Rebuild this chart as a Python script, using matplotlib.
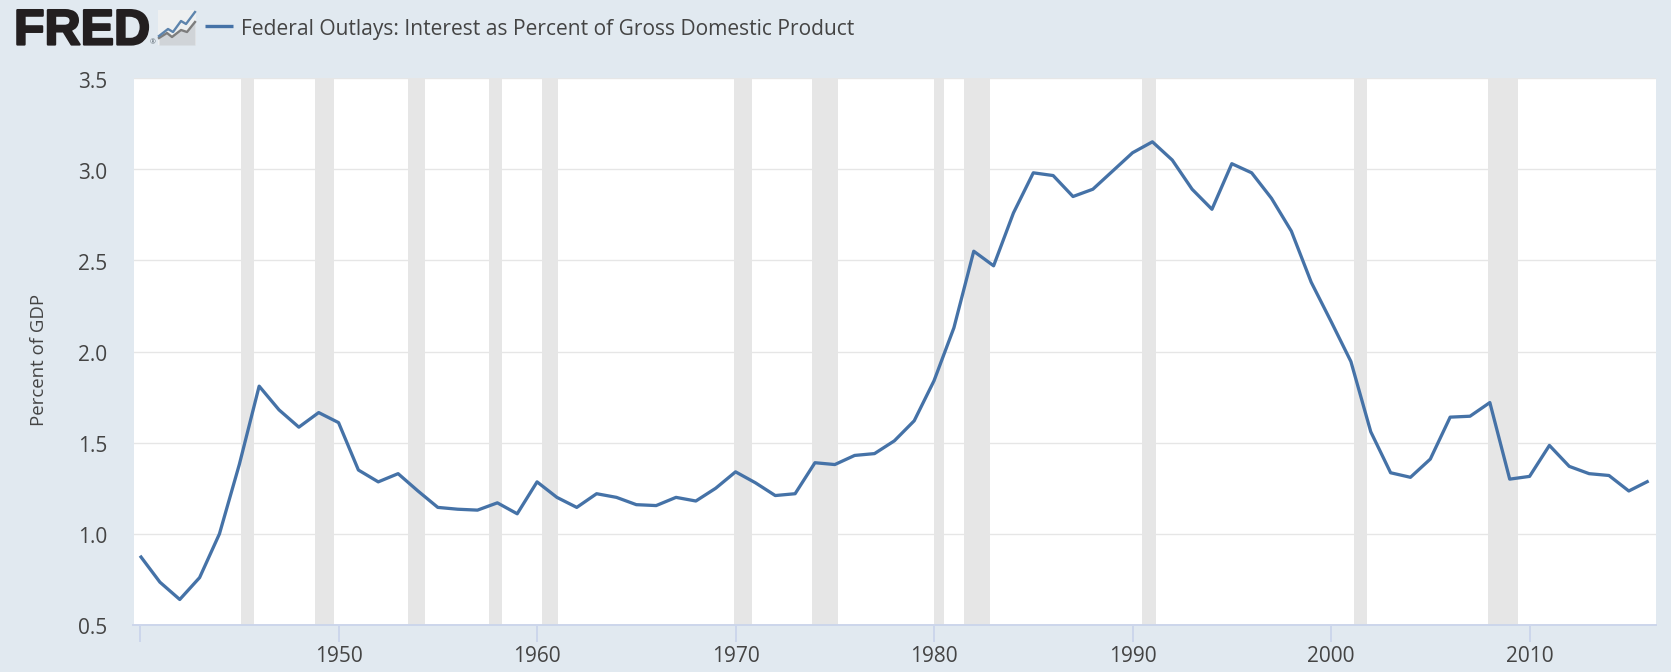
import matplotlib
matplotlib.use('Agg')
import matplotlib.pyplot as plt
import matplotlib.patheffects as pe
from matplotlib.transforms import ScaledTranslation

plt.rcParams['font.family'] = ['Open Sans', 'DejaVu Sans']

W = 1671
H = 672
bg = '#e1e9f0'
text_color = '#444444'
line_color = '#4572a7'

years = list(range(1940, 2017))
interest = [0.88, 0.735, 0.64, 0.76, 1.0, 1.38, 1.81, 1.68, 1.585, 1.665,
            1.61, 1.35, 1.285, 1.33, 1.235, 1.145, 1.135, 1.13, 1.17, 1.11,
            1.285, 1.2, 1.145, 1.22, 1.2, 1.16, 1.155, 1.2, 1.18, 1.25,
            1.34, 1.28, 1.21, 1.22, 1.39, 1.38, 1.43, 1.44, 1.51, 1.62,
            1.84, 2.13, 2.55, 2.47, 2.76, 2.98, 2.965, 2.85, 2.89, 2.99,
            3.09, 3.15, 3.05, 2.89, 2.78, 3.03, 2.98, 2.84, 2.66, 2.38,
            2.165, 1.945, 1.56, 1.335, 1.31, 1.41, 1.64, 1.645, 1.72, 1.30,
            1.315, 1.485, 1.37, 1.33, 1.32, 1.235, 1.29]

#Recession bands (start, end) in decimal years
recessions = [(1945.08, 1945.72), (1948.83, 1949.75), (1953.5, 1954.37),
              (1957.6, 1958.25), (1960.25, 1961.08), (1969.92, 1970.83),
              (1973.83, 1975.17), (1980.0, 1980.5), (1981.5, 1982.83),
              (1990.5, 1991.17), (2001.17, 2001.83), (2007.92, 2009.42)]

fig = plt.figure(figsize=(W / 100, H / 100), dpi=100, facecolor=bg)

#Plot area in pixels: left 133.5, right 1656, top 78, bottom 625
ax = fig.add_axes([133.5 / W, 1 - 625 / H, (1656 - 133.5) / W, (625 - 78) / H])
ax.set_facecolor('white')

for start, end in recessions:
    ax.axvspan(start, end, color='#e6e6e6', lw=0, zorder=2)

ax.plot(years, interest, color=line_color, lw=2.35, zorder=3,
        solid_joinstyle='round', solid_capstyle='butt')

ax.set_xlim(1939.67, 2016.37)
ax.set_ylim(0.5, 3.5)
ax.set_yticks([0.5, 1.0, 1.5, 2.0, 2.5, 3.0, 3.5])
ax.set_yticklabels(['0.5', '1.0', '1.5', '2.0', '2.5', '3.0', '3.5'])
ax.set_xticks(list(range(1940, 2020, 10)))
ax.set_xticklabels(['', '1950', '1960', '1970', '1980', '1990', '2000', '2010'])

ax.grid(axis='y', color='#e6e6e6', lw=1.0, zorder=1)
ax.set_axisbelow(True)

for side in ['top', 'right', 'left']:
    ax.spines[side].set_visible(False)
ax.spines['bottom'].set_color('#ccd6eb')
ax.spines['bottom'].set_linewidth(1.4)

ax.tick_params(axis='x', length=12, width=1.4, color='#ccd6eb', labelcolor=text_color,
               labelsize=15, pad=3)
ax.tick_params(axis='y', length=0, labelcolor=text_color, labelsize=15, pad=19)

#Y labels sit slightly below their gridlines
for label in ax.get_yticklabels():
    label.set_transform(label.get_transform() + ScaledTranslation(0, -1.5 / 100, fig.dpi_scale_trans))

#Overlay in pixel coordinates for header and axis title
over = fig.add_axes([0, 0, 1, 1], facecolor='none')
over.set_xlim(0, W)
over.set_ylim(H, 0)
over.axis('off')

over.text(38.5, 360, 'Percent of GDP', rotation=90, ha='center', va='center',
          fontsize=13.4, color=text_color)

#FRED logo
over.text(14, 44.5, 'FRED', family='Liberation Sans', weight='bold', fontsize=36,
          color='#231f20', ha='left', va='baseline',
          path_effects=[pe.withStroke(linewidth=1.6, foreground='#231f20')])
over.text(153, 43, '®', fontsize=5, color='#5a6670', ha='center', va='center')

#Chart icon next to the logo
over.add_patch(plt.Rectangle((158, 10), 38, 35, color='#eef0f1', lw=0))
icon_x = [159, 167, 172, 181, 187, 195]
icon_gray = [38, 33, 37, 30, 32, 22]
over.fill_between(icon_x, icon_gray, [45] * 6, color='#d0d4d8', lw=0)
over.plot(icon_x, icon_gray, color='#7d7d7d', lw=1.7)
over.plot([159, 168, 173, 181, 186, 195], [36, 29, 32, 21, 24, 12], color='#5d84ad', lw=1.7)

over.set_xlim(0, W)
over.set_ylim(H, 0)

#Legend
over.plot([205, 233], [26, 26], color=line_color, lw=2.4, solid_capstyle='butt')
over.text(241, 29, 'Federal Outlays: Interest as Percent of Gross Domestic Product',
          fontsize=15.16, color=text_color, ha='left', va='center')

fig.savefig('out.png', dpi=100, facecolor=bg)
